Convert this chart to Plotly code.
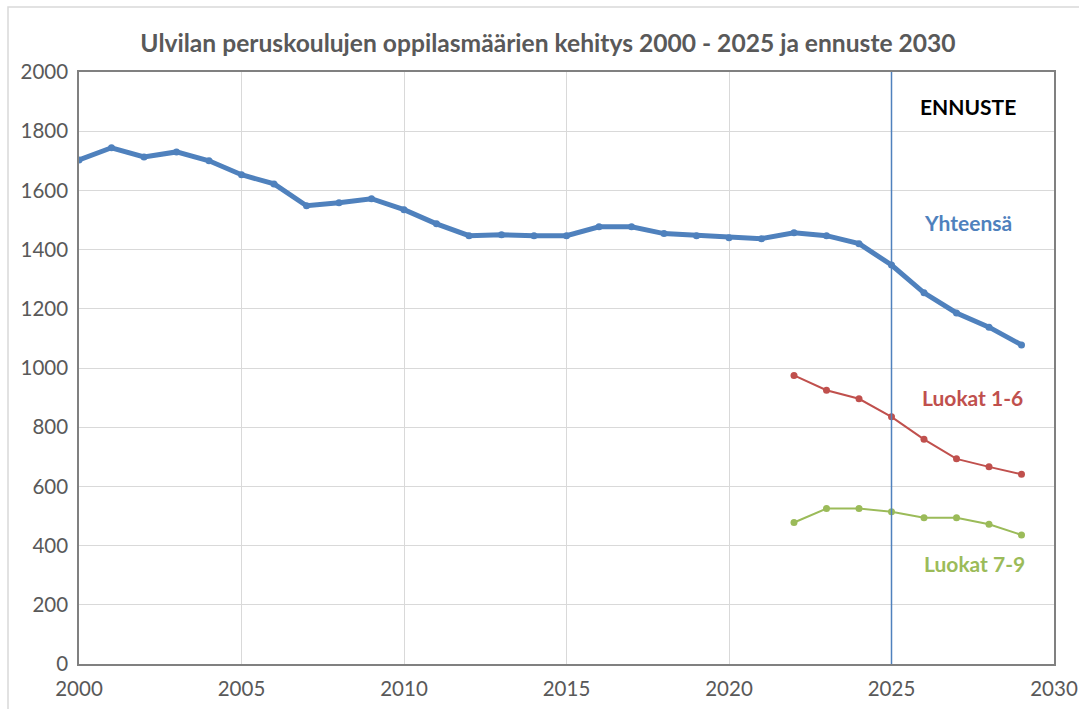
import plotly.graph_objects as go

years_total = list(range(2000, 2030))
total = [1703, 1744, 1713, 1730, 1700, 1653, 1622, 1548, 1558, 1572,
         1535, 1487, 1447, 1450, 1447, 1447, 1477, 1477, 1454, 1447,
         1440, 1437, 1457, 1447, 1420, 1348, 1254, 1186, 1138, 1078]
years_sub = list(range(2022, 2030))
grades_1_6 = [975, 925, 896, 835, 759, 693, 666, 641]
grades_7_9 = [478, 525, 525, 514, 494, 494, 472, 436]
x_ticks = [2000, 2005, 2010, 2015, 2020, 2025, 2030]
y_ticks = list(range(0, 2001, 200))

FONT = "Lato, 'Open Sans', sans-serif"
BLUE = "#4F81BD"
RED = "#C0504D"
GREEN = "#9BBB59"

fig = go.Figure()
fig.add_trace(go.Scatter(x=years_total, y=total, mode="lines+markers",
                         line=dict(color=BLUE, width=5),
                         marker=dict(color=BLUE, size=7), name="Yhteensä"))
fig.add_trace(go.Scatter(x=years_sub, y=grades_1_6, mode="lines+markers",
                         line=dict(color=RED, width=2),
                         marker=dict(color=RED, size=7), name="Luokat 1-6"))
fig.add_trace(go.Scatter(x=years_sub, y=grades_7_9, mode="lines+markers",
                         line=dict(color=GREEN, width=2),
                         marker=dict(color=GREEN, size=7), name="Luokat 7-9"))

fig.add_shape(type="line", x0=2025, x1=2025, y0=0, y1=2000, xref="x", yref="y",
              line=dict(color=BLUE, width=1.5), layer="above")

ann = [
    ("ENNUSTE", 2027.35, 1882, "#000000"),
    ("Yhteensä", 2027.34, 1490, BLUE),
    ("Luokat 1-6", 2027.49, 899, RED),
    ("Luokat 7-9", 2027.54, 341, GREEN),
]
for t, x, y, c in ann:
    fig.add_annotation(x=x, y=y, text=f"<b>{t}</b>", showarrow=False,
                       font=dict(family=FONT, size=21, color=c),
                       xanchor="center", yanchor="middle")

# outer chart border
fig.add_shape(type="rect", xref="paper", yref="paper",
              x0=-71/975, x1=1.1, y0=-1, y1=657/592,
              line=dict(color="#D9D9D9", width=1.5), layer="below")

fig.update_layout(
    width=1079, height=709,
    margin=dict(l=79, r=25, t=72, b=45, autoexpand=False),
    paper_bgcolor="white", plot_bgcolor="white",
    showlegend=False,
    title=dict(text="<b>Ulvilan peruskoulujen oppilasmäärien kehitys 2000 - 2025 ja ennuste 2030</b>",
               x=548/1079, xanchor="center", y=1 - 43/709, yanchor="middle",
               font=dict(family=FONT, size=24.6, color="#595959")),
    font=dict(family=FONT, color="#595959"),
)
fig.update_xaxes(range=[2000, 2030], tickvals=x_ticks, ticktext=[str(v) for v in x_ticks],
                 showgrid=True, gridcolor="#D9D9D9", gridwidth=1,
                 showline=True, linecolor="#808080", linewidth=1.5, mirror=True,
                 zeroline=False, ticks="", automargin=False,
                 tickfont=dict(family=FONT, size=20.5, color="#595959"),
                 ticklabelstandoff=6)
fig.update_yaxes(range=[0, 2000], tickvals=y_ticks, ticktext=[str(v) for v in y_ticks],
                 showgrid=True, gridcolor="#D9D9D9", gridwidth=1,
                 showline=True, linecolor="#808080", linewidth=1.5, mirror=True,
                 zeroline=False, ticks="", automargin=False,
                 tickfont=dict(family=FONT, size=20.5, color="#595959"),
                 ticklabelstandoff=5)

fig.write_html("out.html", config={"displayModeBar": False},
               post_script="document.body.style.margin='0px';")
